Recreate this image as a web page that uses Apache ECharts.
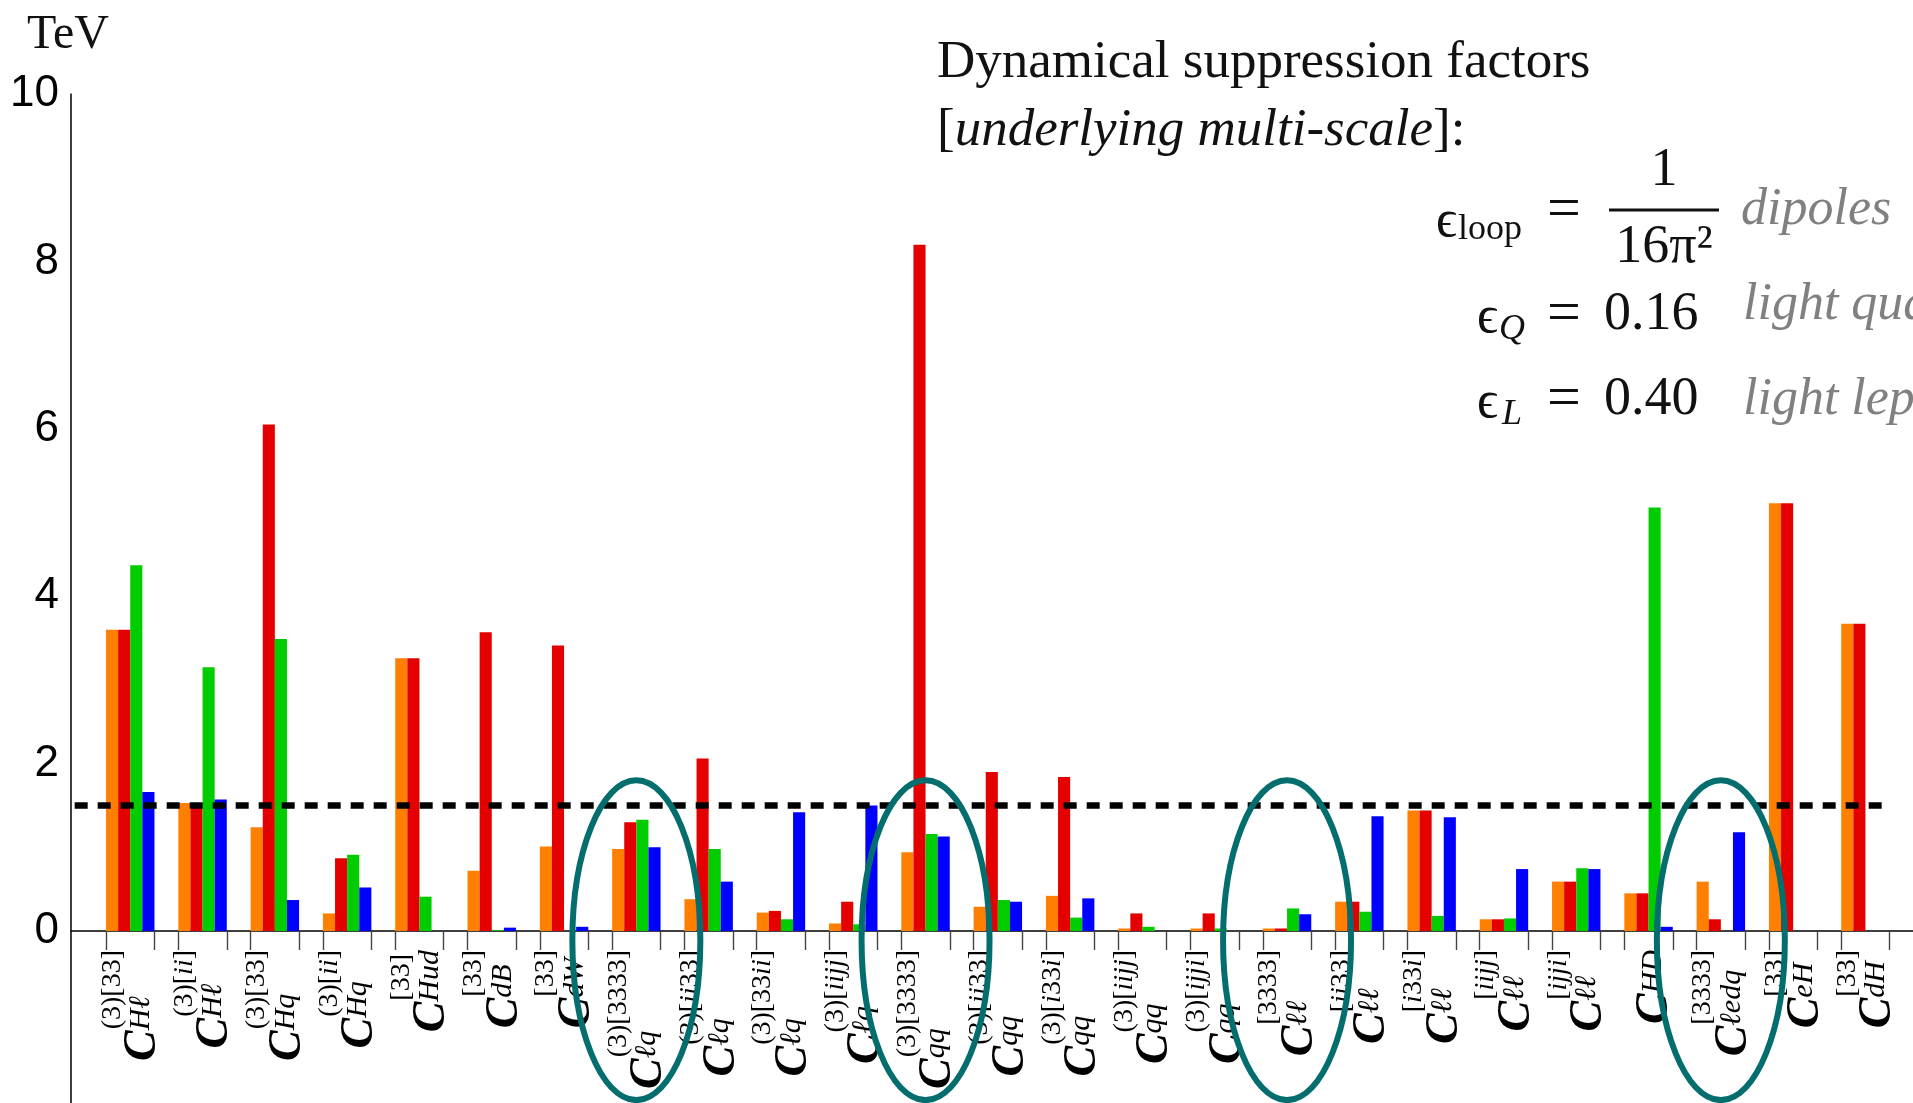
<!DOCTYPE html>
<html><head><meta charset="utf-8">
<script src="https://cdn.jsdelivr.net/npm/echarts@6/dist/echarts.min.js"></script>
<style>html,body{margin:0;padding:0;background:#fff}#c{width:1913px;height:1103px}</style>
</head><body><div id="c"></div>
<script>
// ---------------- data ----------------
const categories = ['CHl3_33','CHl3_ii','CHq3_33','CHq3_ii','CHud_33','CdB_33','CdW_33','Clq3_3333','Clq3_ii33','Clq3_33ii','Clq3_iijj','Cqq3_3333','Cqq3_ii33','Cqq3_i33i','Cqq3_iijj','Cqq3_ijji','Cll_3333','Cll_ii33','Cll_i33i','Cll_iijj','Cll_ijji','CHD','Cledq_3333','CeH_33','CdH_33'];
const labelSup = ['(3)[33]','(3)[ii]','(3)[33]','(3)[ii]','[33]','[33]','[33]','(3)[3333]','(3)[ii33]','(3)[33ii]','(3)[iijj]','(3)[3333]','(3)[ii33]','(3)[i33i]','(3)[iijj]','(3)[ijji]','[3333]','[ii33]','[i33i]','[iijj]','[ijji]','','[3333]','[33]','[33]'];
const labelSub = ['Hℓ','Hℓ','Hq','Hq','Hud','dB','dW','ℓq','ℓq','ℓq','ℓq','qq','qq','qq','qq','qq','ℓℓ','ℓℓ','ℓℓ','ℓℓ','ℓℓ','HD','ℓedq','eH','dH'];
const orangeVals = [3.60,1.53,1.24,0.21,3.26,0.72,1.01,0.98,0.38,0.22,0.09,0.94,0.29,0.42,0.03,0.03,0.03,0.35,1.44,0.14,0.59,0.45,0.59,5.11,3.67];
const redVals    = [3.60,1.53,6.05,0.87,3.26,3.57,3.41,1.30,2.06,0.24,0.35,8.20,1.90,1.84,0.21,0.21,0.03,0.35,1.44,0.14,0.59,0.45,0.14,5.11,3.67];
const greenVals  = [4.37,3.15,3.49,0.91,0.41,0.01,null,1.33,0.98,0.14,0.08,1.16,0.37,0.16,0.05,0.03,0.27,0.23,0.18,0.15,0.75,5.06,null,null,null];
const blueVals   = [1.66,1.57,0.37,0.52,null,0.04,0.05,1.00,0.59,1.42,1.50,1.13,0.35,0.39,null,null,0.20,1.37,1.36,0.74,0.74,0.05,1.18,null,null];
const yTicks = [0,2,4,6,8,10];
const yMax = 10;
const threshold = 1.5;
const circledCats = ['Clq3_3333','Cqq3_3333','Cll_3333','Cledq_3333'];
const circleTop = 1.80, circleBottom = -2.02;

// ---------------- layout ----------------
const W = 1913, H = 1103;
const plotTop = 94, zeroY = 931, axisX = 71;
const yMinB = -(H - zeroY) / (zeroY - plotTop) * yMax;
const gridLeft = 94.1, bandW = 72.3;
const groupHalf = 0.335;
const serif = '"Liberation Serif","DejaVu Serif",serif';
const colors = ['#ff8000', '#e50000', '#00cc00', '#0000ff'];

// ---------------- label rich text ----------------
const cvs = document.createElement('canvas').getContext('2d');
function mw(txt, font) { cvs.font = font; return cvs.measureText(txt).width; }
const C_SIZE = 46, SUP_SIZE = 28, SUB_SIZE = 30;
const cW = mw('C', `italic bold ${C_SIZE}px ${serif}`) + 1;
function runs(str) {
  const out = []; let cur = '', curL = null;
  for (const ch of str) {
    const isL = /[A-Za-zℓ]/.test(ch);
    if (curL === null || isL === curL) { cur += ch; curL = isL; }
    else { out.push([cur, curL]); cur = ch; curL = isL; }
  }
  if (cur) out.push([cur, curL]);
  return out;
}
const rich = {
  c: { fontFamily: serif, fontStyle: 'italic', fontWeight: 'bold', fontSize: C_SIZE, lineHeight: 24, color: '#000', align: 'left', verticalAlign: 'top' },
  sp: { width: cW, fontSize: 8, lineHeight: 4, align: 'left' },
  pu: { fontFamily: serif, fontSize: SUP_SIZE, lineHeight: 16, color: '#000', align: 'left' },
  pi: { fontFamily: serif, fontStyle: 'italic', fontSize: SUP_SIZE, lineHeight: 16, color: '#000', align: 'left' },
  bi: { fontFamily: serif, fontStyle: 'italic', fontSize: SUB_SIZE, lineHeight: 22, color: '#000', align: 'left', verticalAlign: 'bottom' },
  lh: { fontSize: 8, lineHeight: 36, align: 'left' }
};
function labelFor(i) {
  const sup = labelSup[i];
  const l1 = '{sp| }' + runs(sup).map(r => `{${r[1] ? 'pi' : 'pu'}|${r[0]}}`).join('');
  const l2 = '{lh|}{c|C}' + `{bi|${labelSub[i]}}`;
  return l1 + '\n' + l2;
}

const tickVals = [];
categories.forEach((c, i) => { tickVals.push(i - groupHalf, i + groupHalf); });

const barSeries = [orangeVals, redVals, greenVals, blueVals].map((vals, k) => ({
  type: 'bar', xAxisIndex: 0, yAxisIndex: 0, data: vals,
  itemStyle: { color: colors[k] }, barGap: '0%', barCategoryGap: '33%', z: 2
}));

const chart = echarts.init(document.getElementById('c'), null, { renderer: 'canvas' });
chart.setOption({
  animation: false,
  backgroundColor: '#fff',
  grid: [
    { left: gridLeft, width: bandW * categories.length, top: plotTop, bottom: H - zeroY, containLabel: false, outerBoundsMode: 'none' },
    { left: axisX, right: 0, top: plotTop, bottom: 0, containLabel: false, outerBoundsMode: 'none' }
  ],
  xAxis: [
    { type: 'category', gridIndex: 0, data: categories, position: 'bottom',
      axisLine: { show: false }, axisTick: { show: false },
      axisLabel: { interval: 0, rotate: 90, margin: 19, formatter: (v, i) => labelFor(i), rich: rich, hideOverlap: false },
      splitLine: { show: false } },
    { type: 'value', gridIndex: 0, min: -0.5, max: categories.length - 0.5, position: 'bottom',
      axisLine: { show: false },
      axisTick: { show: true, customValues: tickVals, length: 19, lineStyle: { color: '#444', width: 1.4 } },
      axisLabel: { show: false }, splitLine: { show: false } },
    { type: 'value', gridIndex: 1, min: 0, max: 1, position: 'bottom',
      axisLine: { show: true, onZero: true, lineStyle: { color: '#000', width: 1.5 } },
      axisTick: { show: false }, axisLabel: { show: false }, splitLine: { show: false } }
  ],
  yAxis: [
    { type: 'value', gridIndex: 0, min: 0, max: yMax, show: false, splitLine: { show: false } },
    { type: 'value', gridIndex: 1, min: yMinB, max: yMax,
      axisLine: { show: true, lineStyle: { color: '#000', width: 1.5 } },
      axisTick: { show: false }, splitLine: { show: false },
      axisLabel: { customValues: yTicks, color: '#000', fontSize: 44, fontFamily: '"Liberation Sans",Arial,sans-serif', margin: 12 } }
  ],
  series: [
    ...barSeries,
    { type: 'line', xAxisIndex: 2, yAxisIndex: 1, data: [[0.002, threshold], [0.9875, threshold]],
      showSymbol: false, silent: true, z: 5,
      lineStyle: { color: '#000', width: 6.5, type: [13, 10] } },
    { type: 'custom', xAxisIndex: 0, yAxisIndex: 0, silent: true, clip: false, z: 10,
      data: circledCats.map(c => [categories.indexOf(c), circleTop, circleBottom]),
      encode: { x: 0, y: [1, 2] },
      renderItem: function (params, api) {
        const t = api.coord([api.value(0), api.value(1)]);
        const b = api.coord([api.value(0), api.value(2)]);
        const band = api.size([1, 0])[0];
        return { type: 'ellipse',
          shape: { cx: t[0], cy: (t[1] + b[1]) / 2, rx: band * 0.885, ry: Math.abs(b[1] - t[1]) / 2 },
          style: { fill: 'none', stroke: '#046e6e', lineWidth: 6 } };
      } }
  ],
  graphic: [
    { type: 'text', x: 27, y: 35, z: 20, style: { text: 'TeV', fontSize: 48, fontFamily: serif, fill: '#111', verticalAlign: 'middle' } },
    { type: 'text', x: 937, y: 63, z: 20, style: { text: 'Dynamical suppression factors', fontSize: 53, fontFamily: serif, fill: '#111', verticalAlign: 'middle' } },
    { type: 'text', x: 937, y: 131, z: 20, style: { text: '[{i|underlying multi-scale}]:', fontSize: 53, fontFamily: serif, fill: '#111', verticalAlign: 'middle',
      rich: { i: { fontSize: 53, fontFamily: serif, fontStyle: 'italic', fill: '#111', color: '#111' } } } },
    { type: 'text', x: 1436, y: 222, z: 20, style: { text: 'ϵ', fontSize: 52, fontFamily: serif, fill: '#111', verticalAlign: 'middle' } },
    { type: 'text', x: 1458, y: 230, z: 20, style: { text: 'loop', fontSize: 36, fontFamily: serif, fill: '#111', verticalAlign: 'middle' } },
    { type: 'text', x: 1547, y: 211, z: 20, style: { text: '=', fontSize: 60, fontFamily: serif, fill: '#111', verticalAlign: 'middle' } },
    { type: 'text', x: 1664, y: 171, z: 20, style: { text: '1', fontSize: 54, fontFamily: serif, fill: '#111', align: 'center', verticalAlign: 'middle' } },
    { type: 'line', z: 20, shape: { x1: 1609, y1: 210, x2: 1719, y2: 210 }, style: { stroke: '#111', lineWidth: 3 } },
    { type: 'text', x: 1664, y: 248, z: 20, style: { text: '16π²', fontSize: 54, fontFamily: serif, fill: '#111', align: 'center', verticalAlign: 'middle' } },
    { type: 'text', x: 1741, y: 210, z: 20, style: { text: 'dipoles', fontSize: 52, fontFamily: serif, fontStyle: 'italic', fill: '#808080', verticalAlign: 'middle' } },
    { type: 'text', x: 1477, y: 318, z: 20, style: { text: 'ϵ', fontSize: 52, fontFamily: serif, fill: '#111', verticalAlign: 'middle' } },
    { type: 'text', x: 1499, y: 330, z: 20, style: { text: 'Q', fontSize: 36, fontFamily: serif, fontStyle: 'italic', fill: '#111', verticalAlign: 'middle' } },
    { type: 'text', x: 1547, y: 315, z: 20, style: { text: '=', fontSize: 60, fontFamily: serif, fill: '#111', verticalAlign: 'middle' } },
    { type: 'text', x: 1604, y: 315, z: 20, style: { text: '0.16', fontSize: 54, fontFamily: serif, fill: '#111', verticalAlign: 'middle' } },
    { type: 'text', x: 1743, y: 305, z: 20, style: { text: 'light quarks', fontSize: 52, fontFamily: serif, fontStyle: 'italic', fill: '#808080', verticalAlign: 'middle' } },
    { type: 'text', x: 1477, y: 403, z: 20, style: { text: 'ϵ', fontSize: 52, fontFamily: serif, fill: '#111', verticalAlign: 'middle' } },
    { type: 'text', x: 1502, y: 415, z: 20, style: { text: 'L', fontSize: 36, fontFamily: serif, fontStyle: 'italic', fill: '#111', verticalAlign: 'middle' } },
    { type: 'text', x: 1547, y: 400, z: 20, style: { text: '=', fontSize: 60, fontFamily: serif, fill: '#111', verticalAlign: 'middle' } },
    { type: 'text', x: 1604, y: 400, z: 20, style: { text: '0.40', fontSize: 54, fontFamily: serif, fill: '#111', verticalAlign: 'middle' } },
    { type: 'text', x: 1743, y: 400, z: 20, style: { text: 'light leptons', fontSize: 52, fontFamily: serif, fontStyle: 'italic', fill: '#808080', verticalAlign: 'middle' } }
  ]
});
</script>
</body></html>
